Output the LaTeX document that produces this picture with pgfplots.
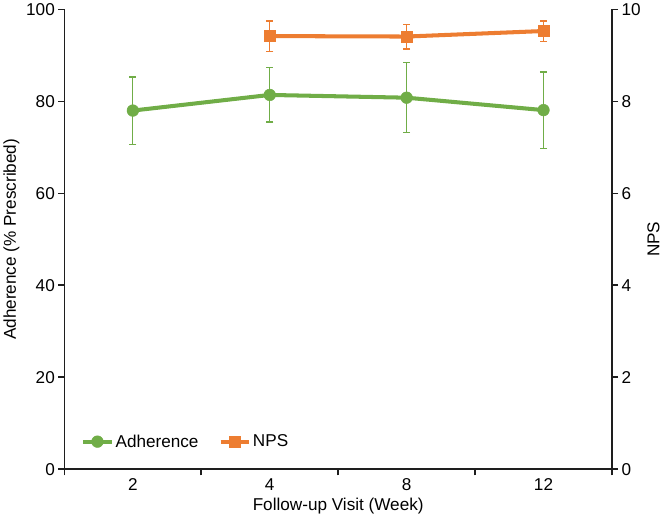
\documentclass[border=0pt]{standalone}
\usepackage{fontspec}
\setmainfont{Liberation Sans}
\usepackage{pgfplots}
\pgfplotsset{compat=1.18}
\definecolor{grn}{RGB}{112,173,71}
\definecolor{org}{RGB}{237,125,49}
\definecolor{axgray}{RGB}{30,30,30}
\begin{document}
\begin{tikzpicture}
\pgfplotsset{
  every axis/.append style={
    font=\fontsize{17bp}{20bp}\selectfont,
    /pgf/number format/assume math mode=true,
    scale only axis, width=543bp, height=456bp,
    xmin=-0.5, xmax=3.5,
    axis line style={-, line width=1.6bp, color=axgray},
    tick style={line width=1.6bp, color=axgray},
    tick align=outside,
    major tick length=6bp,
  },
}
\begin{axis}[
  ymin=0, ymax=100,
  axis x line*=bottom, axis y line*=left,
  ytick={0,20,...,100},
  xtick={0,1,2,3}, xticklabels={2,4,8,12},
  minor xtick={-0.5,0.5,1.5,2.5,3.5},
  minor tick length=6bp,
  major x tick style={draw=none},
  xlabel={Follow-up Visit (Week)},
  ylabel={Adherence (\% Prescribed)},
  legend image code/.code={\draw[mark repeat=2,mark phase=2] plot coordinates {(0bp,0bp) (14bp,0bp) (28bp,0bp)};},
  legend style={draw=none, fill=none, at={(0.025,0.06)}, anchor=west,
    legend columns=2, /tikz/every even column/.append style={column sep=18bp},
    font=\fontsize{17bp}{20bp}\selectfont},
  legend cell align=left,
]
\addplot[grn, line width=4bp, mark=*, mark size=5.8bp, mark options={line width=0.5bp},
  error bars/.cd, y dir=both, y explicit,
  error bar style={line width=1.2bp, grn},
  error mark options={rotate=90, mark size=3.5bp, line width=1.2bp, grn}]
  coordinates {
  (0,78.0) +- (0,7.3)
  (1,81.4) +- (0,5.9)
  (2,80.8) +- (0,7.6)
  (3,78.1) +- (0,8.3)
  };
\addlegendentry{Adherence}
\addlegendimage{org, line width=4bp, mark=square*, mark size=5.5bp, mark options={line width=0.5bp}}
\addlegendentry{NPS}
\end{axis}
\begin{axis}[
  ymin=0, ymax=10,
  axis y line*=right, axis x line=none,
  ytick={0,2,...,10},
  ylabel={NPS},
]
\addplot[org, line width=4bp, mark=square*, mark size=5.5bp, mark options={line width=0.5bp},
  error bars/.cd, y dir=both, y explicit,
  error bar style={line width=1.2bp, org},
  error mark options={rotate=90, mark size=3.5bp, line width=1.2bp, org}]
  coordinates {
  (1,9.42) +- (0,0.33)
  (2,9.41) +- (0,0.27)
  (3,9.53) +- (0,0.22)
  };
\end{axis}
\end{tikzpicture}
\end{document}
